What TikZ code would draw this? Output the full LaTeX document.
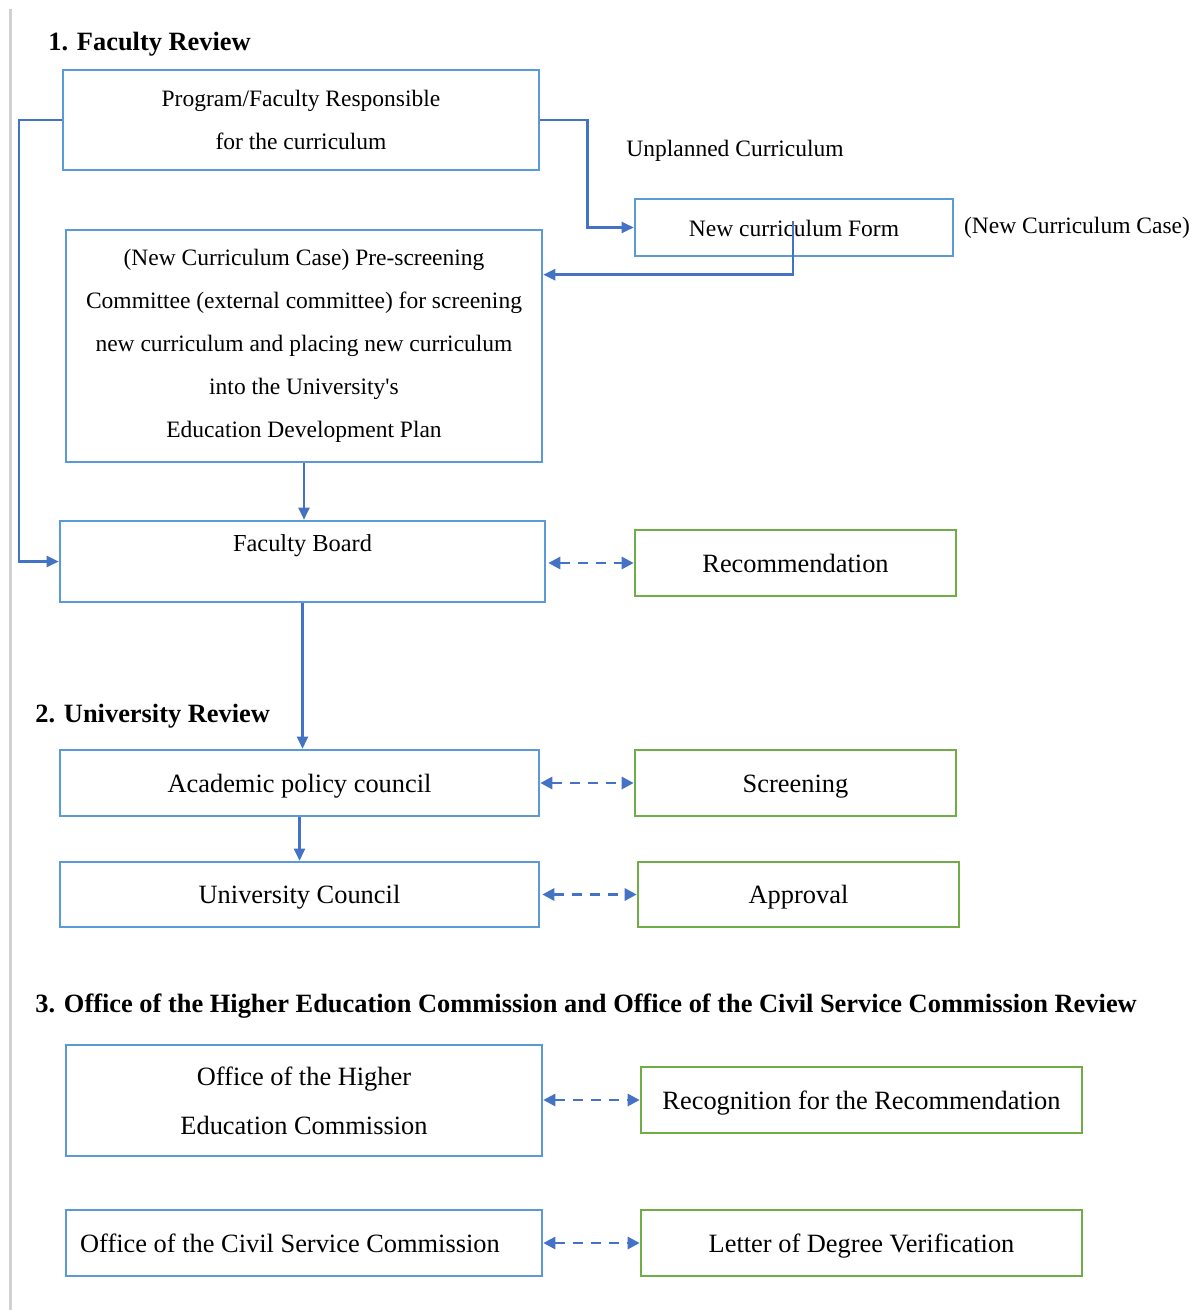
\documentclass[tikz,border=0pt]{standalone}
\usepackage{fontspec}
\setmainfont{Liberation Serif}[Ligatures=TeXOff]
\usetikzlibrary{arrows.meta,calc}
\definecolor{boxblue}{HTML}{5B9BD5}
\definecolor{lineblue}{HTML}{4472C4}
\definecolor{boxgreen}{HTML}{70AD47}
\begin{document}
\begin{tikzpicture}[x=0.5pt,y=-0.5pt,
  bbox/.style={draw=boxblue,line width=1.3pt,inner sep=0pt,align=center},
  one/.style={text height=10pt,text depth=1pt},
  gbox/.style={draw=boxgreen,line width=1.3pt,inner sep=0pt,align=center,font=\fontsize{13.2}{16}\selectfont,one},
  small/.style={font=\fontsize{11.75}{21.5}\selectfont},
  big/.style={font=\fontsize{13.2}{24.5}\selectfont},
  head/.style={anchor=west,inner sep=0pt,font=\fontsize{13.2}{16}\selectfont\bfseries},
  plain/.style={inner sep=0pt,font=\fontsize{11.75}{16}\selectfont},
  flow/.style={draw=lineblue,line width=1.2pt,-{Triangle[length=6pt,width=5.5pt]}},
  dflow/.style={draw=lineblue,line width=1.4pt,dash pattern=on 5pt off 4pt,{Triangle[length=6pt,width=6pt]}-{Triangle[length=6pt,width=6pt]}}]
\useasboundingbox (0,0) rectangle (1200,1310);
\draw[line width=1.5pt,color=black!18] (10,9) -- (10,1310);

\node[head] (h1) at (48,44) {1. Faculty Review};
\node[head] (h2) at (35,716) {2. University Review};
\node[head] (h3) at (35,1006) {3. Office of the Higher Education Commission and Office of the Civil Service Commission Review};

\node[bbox,small,minimum width=238pt,minimum height=50pt] (A) at (301,120) {Program/Faculty Responsible\\for the curriculum};
\node[bbox,small,one,minimum width=159pt,minimum height=28.5pt] (NCF) at (794,227.5) {New curriculum Form};
\node[plain] (unp) at (735,151) {Unplanned Curriculum};
\node[plain] (ncc) at (1077,228) {(New Curriculum Case)};
\node[bbox,small,minimum width=238pt,minimum height=116pt] (P) at (304,346) {(New Curriculum Case) Pre-screening\\Committee (external committee) for screening\\new curriculum and placing new curriculum\\into the University's\\Education Development Plan};
\node[bbox,font=\fontsize{12.2}{16}\selectfont,minimum width=242.5pt,minimum height=40.5pt,text height=9pt,text depth=19.5pt] (FB) at (302.5,561.5) {Faculty Board};
\node[gbox,minimum width=160.5pt,minimum height=33pt] (Rec) at (795.5,563) {Recommendation};

\node[bbox,big,one,minimum width=239.5pt,minimum height=33pt] (APC) at (299.5,783) {Academic policy council};
\node[gbox,minimum width=160.5pt,minimum height=33pt] (Scr) at (795.5,783) {Screening};
\node[bbox,big,one,minimum width=239.5pt,minimum height=32.5pt] (UC) at (299.5,894.5) {University Council};
\node[gbox,minimum width=160.5pt,minimum height=32.5pt] (App) at (798.5,894.5) {Approval};

\node[bbox,big,minimum width=238pt,minimum height=55.5pt] (OHEC) at (304,1100.5) {Office of the Higher\\Education Commission};
\node[gbox,minimum width=220.5pt,minimum height=33pt] (Recog) at (861.5,1100) {Recognition for the Recommendation};
\node[bbox,font=\fontsize{13.2}{16}\selectfont,one,minimum width=238pt,minimum height=33pt] (OCSC) at (304,1243) {Office of the Civil Service Commission\hspace*{14pt}};
\node[gbox,minimum width=220.5pt,minimum height=33pt] (Let) at (861.5,1243) {Letter of Degree Verification};

% connectors
\draw[flow] (A.west) -- ++(-43,0) |- (FB.west);
\draw[flow] (A.east) -- ++(47,0) |- (NCF.west);
\coordinate (ncfin) at ($(NCF.north)+(-1,23)$);
\coordinate (pin) at ($(P.north east)+(0,46)$);
\draw[flow] (ncfin) |- (pin);
\draw[flow] (P.south) -- (P.south |- FB.north);
\draw[flow] (FB.south) -- (FB.south |- APC.north);
\draw[flow] (APC.south) -- (UC.north);

\draw[dflow,shorten <=1pt] (Rec.west -| FB.east) -- (Rec.west);
\draw[dflow] (Scr.west -| APC.east) -- (Scr.west);
\draw[dflow,shorten <=1pt] (App.west -| UC.east) -- (App.west);
\draw[dflow] (Recog.west -| OHEC.east) -- (Recog.west);
\draw[dflow] (Let.west -| OCSC.east) -- (Let.west);
\end{tikzpicture}
\end{document}
